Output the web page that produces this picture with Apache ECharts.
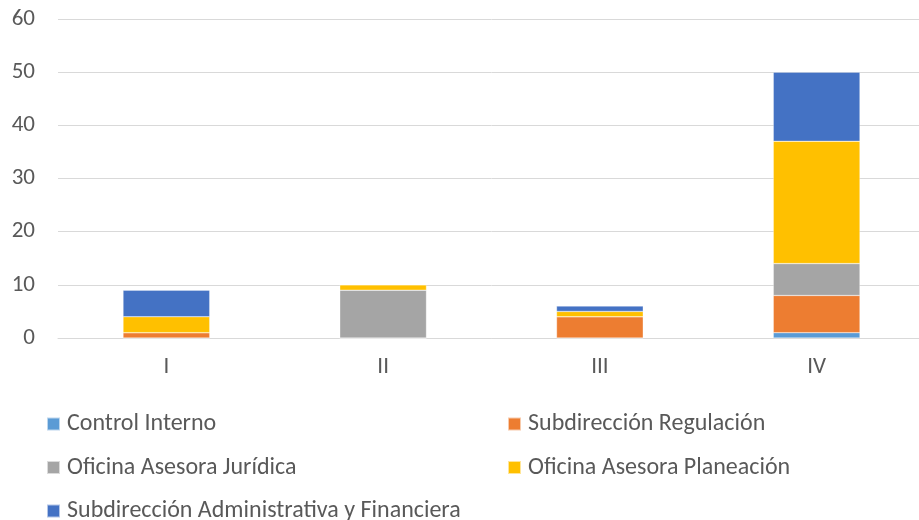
<!DOCTYPE html>
<html>
<head>
<meta charset="utf-8">
<script src="https://cdn.jsdelivr.net/npm/echarts@6/dist/echarts.min.js"></script>
<style>
  html, body { margin: 0; padding: 0; background: #fff; overflow: hidden; }
  /* el area del grafico sale unos px por la derecha, como en el original */
  #chart { width: 925px; height: 520px; }
</style>
</head>
<body>
<div id="chart"></div>
<script>
// categorias (trimestres)
const categories = ['I', 'II', 'III', 'IV'];
const seriesNames = [
  'Control Interno',
  'Subdirección Regulación',
  'Oficina Asesora Jurídica',
  'Oficina Asesora Planeación',
  'Subdirección Administrativa y Financiera'
];
const controlInterno = [0, 0, 0, 1];
const subRegulacion = [1, 0, 4, 7];
const oficinaJuridica = [0, 9, 0, 6];
const oficinaPlaneacion = [3, 1, 1, 23];
const subAdministrativa = [5, 0, 1, 13];
const yTicks = [0, 10, 20, 30, 40, 50, 60];

const colors = ['#5B9BD5', '#ED7D31', '#A5A5A5', '#FFC000', '#4472C4'];
const values = [controlInterno, subRegulacion, oficinaJuridica, oficinaPlaneacion, subAdministrativa];

let mychart = echarts.init(document.getElementById('chart'));

const fontFamily = 'Calibri, Carlito, "Liberation Sans", sans-serif';
const legendText = { color: '#595959', fontSize: 24, lineHeight: 24, fontFamily: fontFamily, padding: [0, 0, 0, 2] };

let option = {
  animation: false,
  color: colors,
  grid: { left: 58, right: 0, top: 19, bottom: 182 },
  xAxis: {
    type: 'category',
    data: categories,
    axisLine: { lineStyle: { color: '#D9D9D9', width: 1 } },
    axisTick: { show: false },
    axisLabel: { color: '#595959', fontSize: 23, margin: 18, fontFamily: fontFamily }
  },
  yAxis: {
    type: 'value',
    min: yTicks[0],
    max: yTicks[yTicks.length - 1],
    interval: 10,
    axisLine: { show: false },
    axisTick: { show: false },
    splitLine: { lineStyle: { color: '#D9D9D9', width: 1 } },
    axisLabel: { color: '#595959', fontSize: 23, margin: 23, fontFamily: fontFamily }
  },
  // dos columnas de leyenda
  legend: [
    {
      left: 41, top: 407, height: 120, orient: 'vertical', itemGap: 19.5,
      itemWidth: 13, itemHeight: 13, icon: 'rect',
      textStyle: legendText,
      data: [seriesNames[0], seriesNames[2], seriesNames[4]]
    },
    {
      left: 502, top: 407, height: 120, orient: 'vertical', itemGap: 19.5,
      itemWidth: 13, itemHeight: 13, icon: 'rect',
      textStyle: legendText,
      data: [seriesNames[1], seriesNames[3]]
    }
  ],
  series: seriesNames.map((name, i) => ({
    name: name,
    type: 'bar',
    stack: 'total',
    barWidth: '40%',
    data: values[i],
    itemStyle: { color: colors[i], borderColor: 'rgba(255,255,255,0.6)', borderWidth: 0.5 }
  }))
};
mychart.setOption(option);
</script>
</body>
</html>
